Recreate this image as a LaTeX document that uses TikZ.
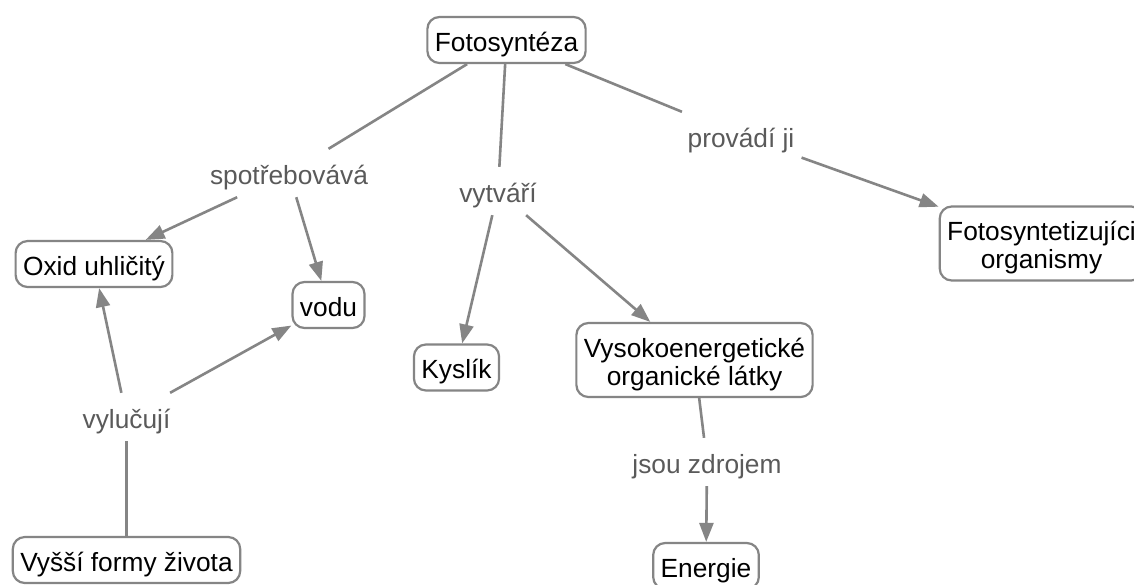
\documentclass[tikz,border=0pt]{standalone}
\usepackage{fontspec}
\setmainfont{Liberation Sans}
\usetikzlibrary{arrows.meta}
\definecolor{edgegray}{HTML}{858585}
\definecolor{labelgray}{HTML}{5A5A5A}
\begin{document}
\begin{tikzpicture}[x=1pt,y=-1pt,
  every node/.style={font=\fontsize{26.3}{28}\selectfont, inner sep=0pt},
  concept/.style={draw=edgegray, line width=2.2pt, rounded corners=12pt, fill=white,
    inner xsep=7.5pt, minimum height=46pt, text height=23pt, text depth=1pt, text=black},
  twoline/.style={concept, align=center, text height=51pt, minimum height=74pt},
  linkword/.style={text=labelgray, inner xsep=7pt, minimum height=48pt,
    text height=23pt, text depth=1pt},
  link/.style={draw=edgegray, line width=2.6pt},
  arrowlink/.style={link, -{Triangle[length=19pt,width=14pt]}}
]
\useasboundingbox (0,0) rectangle (1134,584);
\fill[white] (0,0) rectangle (1134,584);
\clip (0,0) rectangle (1134,584);

% concepts
\node[concept] (foto)  at (506.5,40)   {Fotosyntéza};
\node[concept] (oxid)  at (94,264)     {Oxid uhličitý};
\node[concept] (vodu)  at (328.5,305)  {vodu};
\node[concept] (kys)   at (456.5,367.5){Kyslík};
\node[twoline] (vyso)  at (694.5,360)  {Vysokoenergetické\\organické látky};
\node[twoline] (org)   at (1041.5,243.5) {Fotosyntetizujíci\\organismy};
\node[concept] (vyssi) at (126.5,560)  {Vyšší formy života};
\node[concept] (en)    at (706,566)    {Energie};

% linking phrases
\node[linkword] (spot) at (289,173)   {spotřebovává};
\node[linkword] (vyt)  at (498,191)   {vytváří};
\node[linkword] (prov) at (741,136)   {provádí ji};
\node[linkword] (vyl)  at (126.5,417) {vylučují};
\node[linkword] (jsou) at (707,462)   {jsou zdrojem};

% connections
\draw[link] (foto) -- (spot);
\draw[arrowlink] (spot) -- (oxid);
\draw[arrowlink] (spot) -- (vodu);
\draw[link] (foto) -- (vyt);
\draw[arrowlink] (vyt) -- (kys);
\draw[arrowlink] (vyt) -- (vyso);
\draw[link] (foto) -- (prov);
\draw[arrowlink] (prov) -- (org);
\draw[link] (vyso) -- (jsou);
\draw[arrowlink] (jsou) -- (en);
\draw[link] (vyssi) -- (vyl);
\draw[arrowlink] (vyl) -- (oxid);
\draw[arrowlink] (vyl) -- (vodu);
\end{tikzpicture}
\end{document}
